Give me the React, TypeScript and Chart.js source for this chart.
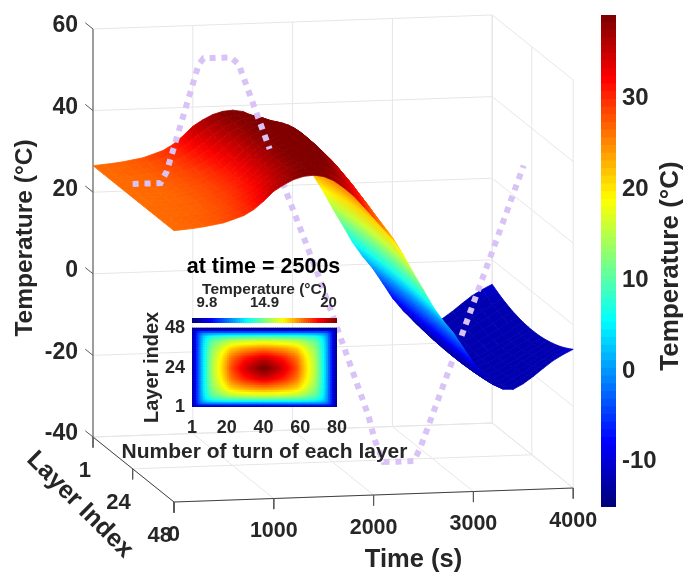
import React, { useEffect, useRef } from "react";
import { Chart, registerables } from "chart.js";

Chart.register(...registerables);

const FONT = "'Liberation Sans', Arial, sans-serif";
const INK = "#262626";

// ---- data ----
const timeKnots = [0,100,200,300,400,500,600,700,800,900,1000,1100,1200,1300,1400,1500,1600,1700,1800,1900,2000,2100,2200,2300,2400,2500,2600,2700,2800,2900,3000,3100,3200,3300,3400,3500,3600,3700,3800,3900,4000];
const edgeTemp = [26.5,26.7,26.9,27.2,27.6,28,28.8,29.6,31,33,35.3,36.8,38,38.7,38.9,38.5,37.4,35.6,33.5,30.8,28,25.2,22.5,18.5,14,9.8,5.5,2,-1,-4.7,-8.5,-11.5,-14,-15.2,-15.3,-14,-12.3,-10.4,-8.6,-7.2,-6];
const centreTemp = [26.5,26.5,26.6,26.7,26.9,27.2,27.6,28.1,28.8,29.8,31,33,35.3,37.2,38.6,39.8,40.6,40.7,38.5,36,33,29.5,25.5,21,16,11.5,6.5,3,-0.5,-4.5,-8.5,-12,-15,-16.8,-17,-16,-14.8,-13.5,-12.2,-10.8,-9.4];
const tailColourShift = [0,0,0,0,0,0,0,0,0,0,0,0,0,0,0,0,0,0,0,0,0,0,0,0,0,0,0,0,0,0,0,0,0,0,0,-1,-2,-3,-3.5,-4,-4.5];
const COLDEST_SHADE = -12.5;
const layerKnots = [1,4,7,10,13,16,19,22,24,27,30,33,36,39,42,45,48];
const layerWeight = [0,0.24,0.45,0.62,0.76,0.87,0.95,0.99,1,0.99,0.95,0.87,0.76,0.62,0.45,0.24,0];

const ambientTime = [0,280,340,661,711,982,1062,1373,1864,2365,2425,2515,2816,2880,3296,3918];
const ambientTemp = [29.8,29.8,32.5,58.5,60,60,58.3,37.2,5.6,-29.2,-35,-40.5,-40.5,-37.5,-10.2,31];

const timeTicks = [0,1000,2000,3000,4000];
const layerTicks = [1,24,48];
const tempTicks = [-40,-20,0,20,40,60];
const barTicks = [-10,0,10,20,30];

const insetTurnTicks = [1,20,40,60,80];
const insetLayerTicks = [1,24,48];
const insetBarPlaces = [10.85,14.9,19.4];
const insetBarLabels = ["9.8","14.9","20"];
const insetColHalf = [0.02,0.06,0.11,0.17,0.22,0.28,0.33,0.38,0.42,0.46,0.5,0.53,0.56,0.58,0.6,0.62,0.645,0.67,0.695,0.72,0.75,0.78,0.8,0.82,0.835,0.85,0.865,0.88,0.895,0.91,0.92,0.93,0.94,0.95,0.96,0.97,0.98,0.99,0.995,1];
const insetRowHalf = [0.02,0.08,0.19,0.3,0.38,0.45,0.51,0.57,0.605,0.64,0.68,0.72,0.75,0.78,0.81,0.84,0.87,0.9,0.92,0.94,0.955,0.97,0.985,1];
const insetColProfile = [...insetColHalf, ...[...insetColHalf].reverse()];
const insetRowProfile = [...insetRowHalf, ...[...insetRowHalf].reverse()];

// ---- colour map ----
const jet = (v: number, levels = 64) => {
  const q = Math.min(levels - 1, Math.max(0, Math.floor(v * levels))) / (levels - 1);
  const c = (x: number) => Math.round(255 * Math.max(0, Math.min(1, 1.5 - Math.abs(4 * q - x))));
  return `rgb(${c(3)},${c(2)},${c(1)})`;
};
const BAR_MIN = -15.2;
const BAR_MAX = 39;
const tempColour = (z: number) => jet((z - BAR_MIN) / (BAR_MAX - BAR_MIN), 256);

// ---- oblique 3D projection to the two linear scales of the main chart ----
const S_PER_LAYER = 17.27;
const Z_PER_LAYER = -0.339;
const Z_PER_SECOND = 0.000858;
const project = (t: number, l: number, z: number) => ({
  x: t + S_PER_LAYER * (l - 1),
  y: z + Z_PER_LAYER * (l - 1) + Z_PER_SECOND * t,
});
const PX_PER_S = 0.0998;
const PX_PER_Z = 4.08;
const X_MIN = -93 / PX_PER_S;
const X_MAX = (686 - 93) / PX_PER_S;
const Y_MAX = 60 + 29 / PX_PER_Z;
const Y_MIN = Y_MAX - 582 / PX_PER_Z;

const lineSet = (pts: any[], color: any, width: number, extra: any = {}) => ({
  data: pts, showLine: true, pointRadius: 0, borderColor: color, borderWidth: width,
  fill: false, clip: false, ...extra,
});

function buildDatasets() {
  const paint: any[] = [];
  const GRID = "#e6e6e6";
  const t1 = timeTicks[timeTicks.length - 1];
  const zLo = tempTicks[0];
  const zHi = tempTicks[tempTicks.length - 1];
  const lHi = layerTicks[layerTicks.length - 1];
  const seg = (a: number[], b: number[], c = GRID, w = 1) =>
    paint.push(lineSet([project(a[0], a[1], a[2]), project(b[0], b[1], b[2])], c, w));

  tempTicks.forEach((z) => { seg([0,1,z],[t1,1,z]); seg([t1,1,z],[t1,lHi,z]); });
  timeTicks.forEach((t) => { seg([t,1,zLo],[t,1,zHi]); seg([t,1,zLo],[t,lHi,zLo]); });
  layerTicks.forEach((l) => { seg([t1,l,zLo],[t1,l,zHi]); seg([0,l,zLo],[t1,l,zLo]); });

  seg([0,lHi,zLo],[t1,lHi,zLo],"#404040",1);
  seg([0,1,zLo],[0,lHi,zLo],"#404040",1);
  seg([0,1,zLo],[0,1,zHi],"#808080",1.5);
  timeTicks.forEach((t) => seg([t,lHi,zLo],[t,lHi,zLo-2.6],"#595959",1));
  layerTicks.forEach((l) => seg([0,l,zLo],[0,l,zLo-2.6],"#595959",1));
  tempTicks.forEach((z) => seg([0,1,z],[0,-3.5,z],"#595959",1));

  const dot = { borderDash: [6,5.9], borderCapStyle: "butt", borderJoinStyle: "miter" };
  const DOT = "#d9c3f6";
  const ambient = (from: number, to: number) =>
    lineSet(ambientTime.slice(from, to + 1).map((t, i) => project(t, 24, ambientTemp[from + i])), DOT, 6, dot);
  const iA = ambientTime.indexOf(1373);
  const iC = ambientTime.indexOf(3296);
  paint.push(ambient(iA, iC));

  // far-to-near: layers ascending, time descending
  const temp = (i: number, j: number) => edgeTemp[i] + layerWeight[j] * (centreTemp[i] - edgeTemp[i]);
  const shade = (i: number, j: number) => Math.max(COLDEST_SHADE, temp(i, j) + tailColourShift[i]);
  for (let j = 0; j < layerKnots.length - 1; j++) {
    for (let i = timeKnots.length - 2; i >= 0; i--) {
      const corners = [[i,j],[i+1,j],[i+1,j+1],[i,j+1],[i,j]];
      const pts = corners.map(([a,b]) => project(timeKnots[a], layerKnots[b], temp(a,b)));
      const cA = tempColour((shade(i,j) + shade(i,j+1)) / 2);
      const cB = tempColour((shade(i+1,j) + shade(i+1,j+1)) / 2);
      // the gradient runs across the lines of constant time, through the chart's scales
      const paintCell = (c: any) => {
        const { x, y } = c.chart.scales;
        if (!x || !y || !c.chart.ctx) return cA;
        const P = pts.map((p) => ({ x: x.getPixelForValue(p.x), y: y.getPixelForValue(p.y) }));
        if (!P.every((q) => Number.isFinite(q.x) && Number.isFinite(q.y))) return cA;
        const dx = P[3].x - P[0].x, dy = P[3].y - P[0].y;
        const d = Math.hypot(dx, dy) || 1;
        const nx = -dy / d, ny = dx / d;
        const ax = (P[0].x + P[3].x) / 2, ay = (P[0].y + P[3].y) / 2;
        const bx = (P[1].x + P[2].x) / 2, by = (P[1].y + P[2].y) / 2;
        const proj = (bx - ax) * nx + (by - ay) * ny;
        if (Math.abs(proj) < 0.4) return cA;
        const g = c.chart.ctx.createLinearGradient(ax, ay, ax + nx * proj, ay + ny * proj);
        g.addColorStop(0, cA);
        g.addColorStop(1, cB);
        return g;
      };
      paint.push(lineSet(pts, paintCell, 0.8, { fill: "shape", backgroundColor: paintCell, borderJoinStyle: "round" }));
    }
  }
  paint.push(ambient(0, iA));
  paint.push(ambient(iC, ambientTime.length - 1));
  // chart.js paints the lowest order last
  return paint.map((d, k) => ({ ...d, order: paint.length - k }));
}

const drawText = (ctx: any, s: string, x: number, y: number, size: number, align: CanvasTextAlign = "center", rot = 0, color = INK) => {
  ctx.save();
  ctx.translate(x, y);
  ctx.rotate(rot);
  ctx.font = `bold ${size}px ${FONT}`;
  ctx.fillStyle = color;
  ctx.textAlign = align;
  ctx.textBaseline = "middle";
  ctx.fillText(s, 0, 0);
  ctx.restore();
};

const mainText = {
  id: "mainText",
  afterDatasetsDraw(chart: any) {
    const { ctx, scales } = chart;
    const px = (t: number, l: number, z: number) => {
      const p = project(t, l, z);
      return { x: scales.x.getPixelForValue(p.x), y: scales.y.getPixelForValue(p.y) };
    };
    tempTicks.forEach((z) => { const p = px(0,1,z); drawText(ctx, String(z), p.x - 15, p.y - 3, 23, "right"); });
    timeTicks.forEach((t) => { const p = px(t,48,-40); drawText(ctx, String(t), p.x, p.y + 33, 21.5); });
    layerTicks.forEach((l) => { const p = px(0,l,-40); drawText(ctx, String(l), p.x - 2, p.y + 34, 22, "right"); });
    const a = px(2400,48,-40); drawText(ctx, "Time (s)", a.x, a.y + 66, 25.5);
    const b = px(0,24,-40); drawText(ctx, "Layer Index", b.x - 53, b.y + 36, 25, "center", Math.PI / 4);
    const c = px(0,1,10); drawText(ctx, "Temperature (°C)", c.x - 68, c.y + 5, 24.5, "center", -Math.PI / 2);
  },
};

const barTitle = {
  id: "barTitle",
  afterDraw(chart: any) {
    drawText(chart.ctx, "Temperature (°C)", 81, 266, 26, "center", -Math.PI / 2);
  },
};

const heatTitle = {
  id: "heatTitle",
  afterDraw(chart: any) {
    const { chartArea } = chart;
    drawText(chart.ctx, "Number of turn of each layer", (chartArea.left + chartArea.right) / 2, chartArea.bottom + 45, 21);
  },
};

const heatBarTitle = {
  id: "heatBarTitle",
  afterDraw(chart: any) {
    const { chartArea } = chart;
    drawText(chart.ctx, "at time = 2500s", (chartArea.left + chartArea.right) / 2 - 1, chartArea.top - 51, 21.5, "center", 0, "#000");
  },
};

const colourBands = (lo: number, hi: number) => {
  const n = 64;
  const w = (hi - lo) / n;
  return Array.from({ length: n }, (_, k) => ({
    data: [[lo + k * w, lo + (k + 1) * w + w * 0.05]],
    backgroundColor: jet((k + 0.5) / n),
    borderWidth: 0,
    barPercentage: 1,
    categoryPercentage: 1,
    grouped: false,
  }));
};

const setTicks = (vals: number[]) => (scale: any) => { scale.ticks = vals.map((value) => ({ value })); };

export default function App() {
  const mainRef = useRef<HTMLCanvasElement>(null);
  const barRef = useRef<HTMLCanvasElement>(null);
  const heatRef = useRef<HTMLCanvasElement>(null);
  const heatBarRef = useRef<HTMLCanvasElement>(null);

  useEffect(() => {
    const base = { animation: false as const, responsive: false, events: [] as any[] };
    const off = { legend: { display: false }, tooltip: { enabled: false } };

    const main = new Chart(mainRef.current!, {
      type: "scatter",
      data: { datasets: buildDatasets() },
      options: {
        ...base,
        plugins: off,
        layout: { padding: 0 },
        scales: {
          x: { type: "linear", display: false, min: X_MIN, max: X_MAX },
          y: { type: "linear", display: false, min: Y_MIN, max: Y_MAX },
        },
      },
      plugins: [mainText],
    } as any);

    const bar = new Chart(barRef.current!, {
      type: "bar",
      data: { labels: ["T"], datasets: colourBands(BAR_MIN, BAR_MAX) as any },
      options: {
        ...base,
        plugins: off,
        layout: { padding: { left: 11, top: 15, bottom: 75, right: 0 } },
        scales: {
          x: { display: false },
          y: {
            position: "right", min: BAR_MIN, max: BAR_MAX,
            afterBuildTicks: setTicks(barTicks),
            afterFit: (s: any) => { s.width = 70; s.paddingTop = 0; s.paddingBottom = 0; },
            grid: { display: false, drawTicks: false },
            border: { display: false },
            ticks: { padding: 6, labelOffset: 2, color: INK, font: { family: FONT, weight: "bold", size: 24 } },
          },
        },
      },
      plugins: [barTitle],
    } as any);

    const cells: any[] = [];
    const colours: string[] = [];
    insetRowProfile.forEach((r, j) => {
      insetColProfile.forEach((c, i) => {
        cells.push({ x: 1 + (i * 79) / (insetColProfile.length - 1), y: 1 + (j * 47) / (insetRowProfile.length - 1) });
        const f = Math.pow(Math.pow(r, -3.2) + Math.pow(c, -3.2) - 1, -1 / 3.2);
        colours.push(jet(f, 256));
      });
    });
    const heat = new Chart(heatRef.current!, {
      type: "scatter",
      data: { datasets: [{ data: cells, pointStyle: "rect", pointRadius: 2.2, pointBorderWidth: 0, backgroundColor: colours, pointBackgroundColor: colours }] },
      options: {
        ...base,
        plugins: off,
        layout: { padding: { left: 0, top: 16, right: 93, bottom: 0 } },
        scales: {
          x: {
            type: "linear", min: 1, max: 80,
            afterBuildTicks: setTicks(insetTurnTicks),
            afterFit: (s: any) => { s.height = 58; },
            grid: { display: false, drawTicks: false }, border: { display: false },
            ticks: { padding: 10, color: INK, autoSkip: false, maxRotation: 0, font: { family: FONT, weight: "bold", size: 18 } },
          },
          y: {
            type: "linear", min: 1, max: 48,
            afterBuildTicks: setTicks(insetLayerTicks),
            afterFit: (s: any) => { s.width = 92; },
            grid: { display: false, drawTicks: false }, border: { display: false },
            ticks: { padding: 7, color: INK, autoSkip: false, font: { family: FONT, weight: "bold", size: 18 } },
            title: { display: true, text: "Layer index", color: INK, padding: { top: 40, bottom: 0 }, font: { family: FONT, weight: "bold", size: 20 } },
          },
        },
      },
      plugins: [heatTitle],
    } as any);

    const heatBar = new Chart(heatBarRef.current!, {
      type: "bar",
      data: { labels: ["T"], datasets: colourBands(9.8, 20) as any },
      options: {
        ...base,
        indexAxis: "y",
        plugins: off,
        layout: { padding: { left: 92, right: 93, top: 23, bottom: 4 } },
        scales: {
          y: { display: false },
          x: {
            position: "top", min: 9.8, max: 20,
            afterBuildTicks: setTicks(insetBarPlaces),
            afterFit: (s: any) => { s.height = 38; },
            grid: { display: false, drawTicks: false }, border: { display: false },
            ticks: {
              padding: 6, color: INK, autoSkip: false, maxRotation: 0,
              font: { family: FONT, weight: "bold", size: 15 },
              callback: (_: any, i: number) => insetBarLabels[i],
            },
            title: { display: true, text: "Temperature (°C)", color: INK, padding: 0, font: { family: FONT, weight: "bold", size: 15.5 } },
          },
        },
      },
      plugins: [heatBarTitle],
    } as any);

    return () => { main.destroy(); bar.destroy(); heat.destroy(); heatBar.destroy(); };
  }, []);

  const abs = (left: number, top: number): React.CSSProperties => ({ position: "absolute", left, top, display: "block" });
  return (
    <div style={{ position: "absolute", left: 0, top: 0, width: 686, height: 582, overflow: "hidden", background: "#fff" }}>
      <canvas ref={mainRef} width={686} height={582} style={abs(0, 0)} />
      <canvas ref={barRef} width={96} height={582} style={abs(590, 0)} />
      <canvas ref={heatRef} width={330} height={155} style={abs(100, 310)} />
      <canvas ref={heatBarRef} width={330} height={70} style={abs(100, 257)} />
    </div>
  );
}
